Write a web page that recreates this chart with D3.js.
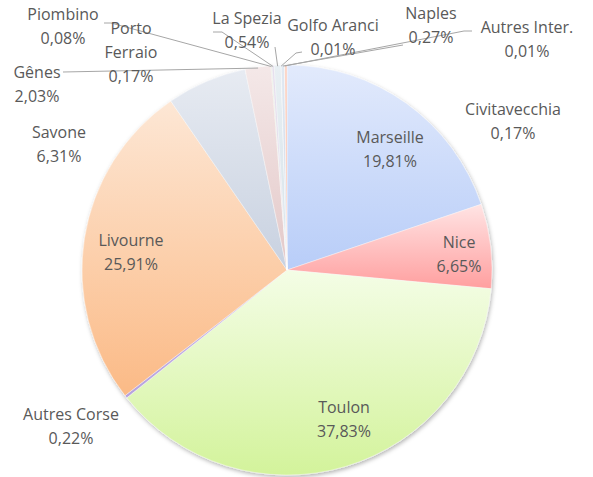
<!DOCTYPE html>
<html>
<head>
<meta charset="utf-8">
<script src="https://cdn.jsdelivr.net/npm/d3@7"></script>
<style>
  body { margin: 0; background: #fff; }
  text { font-family: "Open Sans", sans-serif; font-size: 16px; fill: #595959; }
</style>
</head>
<body>
<script>
// ports, in drawing order (clockwise from 12 o'clock)
var ports = ["Marseille", "Nice", "Toulon", "Autres Corse", "Livourne", "Savone", "Gênes",
    "Piombino", "Porto Ferraio", "La Spezia", "Golfo Aranci", "Naples", "Autres Inter.", "Civitavecchia"];
var shares = [19.81, 6.65, 37.83, 0.22, 25.91, 6.31, 2.03, 0.08, 0.17, 0.54, 0.01, 0.27, 0.01, 0.17];
var shareLabels = ["19,81%", "6,65%", "37,83%", "0,22%", "25,91%", "6,31%", "2,03%",
    "0,08%", "0,17%", "0,54%", "0,01%", "0,27%", "0,01%", "0,17%"];

// colours (top of gradient, bottom of gradient)
var topColors = ["#e2eafc", "#ffe4e4", "#f4fde6", "#cdbfea", "#fde7d5", "#e7ebf2", "#f4e8e8",
    "#e4ecdc", "#e6e0ee", "#e8eff3", "#dcecf2", "#e0e8f2", "#f6e6dc", "#fcd0c0"];
var bottomColors = ["#b8cdf8", "#ff9f9f", "#d3f39b", "#b6a2de", "#fbba86", "#c8d1e0", "#e3c8c8",
    "#d2dcc6", "#d6cce4", "#d6e3ea", "#c8e0ea", "#ccd8e8", "#f0d4c4", "#f8b49c"];

// label layout: centre x, first line y, extra lines, leader line start points
var labelPos = {
    "Marseille": [390, 137], "Nice": [459, 242], "Toulon": [344, 407], "Autres Corse": [71, 414],
    "Livourne": [131, 240], "Savone": [59, 132], "Gênes": [37, 72], "Piombino": [63, 14],
    "Porto Ferraio": [131, 28], "La Spezia": [247, 18], "Golfo Aranci": [333, 25],
    "Naples": [431, 13], "Autres Inter.": [527, 27], "Civitavecchia": [513, 109]
};
var leaders = {
    "Piombino": [[104, 23], [111, 23]],
    "Gênes": [[63, 72]],
    "Porto Ferraio": [[213, 32], [222, 32]],
    "La Spezia": [[275, 47]],
    "Golfo Aranci": [[302, 52], [296, 53]],
    "Naples": [[403, 45]],
    "Autres Inter.": [[472, 31], [464, 31]]
};

var w = 593, h = 477;
var cx = 287, cy = 270, r = 205;

var svg = d3.select("body").append("svg")
    .attr("width", w)
    .attr("height", h);

var defs = svg.append("defs");
var shadow = defs.append("filter").attr("id", "shadow")
    .attr("x", "-10%").attr("y", "-10%").attr("width", "120%").attr("height", "120%");
shadow.append("feDropShadow")
    .attr("dx", 1).attr("dy", 2).attr("stdDeviation", 2)
    .attr("flood-color", "#000").attr("flood-opacity", 0.3);

ports.forEach(function(p, i) {
    var g = defs.append("linearGradient").attr("id", "grad" + i)
        .attr("x1", 0).attr("y1", 0).attr("x2", 0).attr("y2", 1);
    g.append("stop").attr("offset", "0%").attr("stop-color", topColors[i]);
    g.append("stop").attr("offset", "100%").attr("stop-color", bottomColors[i]);
});

var pie = d3.pie().sort(null).value(function(d) { return d; });
var arcs = pie(shares);

var arc = d3.arc().innerRadius(0).outerRadius(r);
var edge = d3.arc().innerRadius(r - 1).outerRadius(r - 1);

var chart = svg.append("g")
    .attr("transform", "translate(" + cx + "," + cy + ")");

chart.append("g")
    .attr("filter", "url(#shadow)")
    .selectAll("path")
    .data(arcs)
    .enter()
    .append("path")
    .attr("d", arc)
    .attr("fill", function(d, i) { return "url(#grad" + i + ")"; })
    .attr("stroke", "#fff")
    .attr("stroke-width", 0.4);

// leader lines
var line = d3.line();
arcs.forEach(function(d, i) {
    var pts = leaders[ports[i]];
    if (!pts) return;
    var c = edge.centroid(d);
    var all = pts.concat([[c[0] + cx, c[1] + cy]]);
    svg.append("path")
        .attr("d", line(all))
        .attr("fill", "none")
        .attr("stroke", "#a6a6a6")
        .attr("stroke-width", 1);
});

// labels
ports.forEach(function(p, i) {
    var pos = labelPos[p];
    var lines = p === "Porto Ferraio" ? ["Porto", "Ferraio", shareLabels[i]] : [p, shareLabels[i]];
    var t = svg.append("text")
        .attr("text-anchor", "middle");
    lines.forEach(function(s, k) {
        t.append("tspan")
            .attr("x", pos[0])
            .attr("y", pos[1] + k * (p === "Porto Ferraio" ? 24 : 24))
            .attr("dy", "0.35em")
            .text(s);
    });
});
</script>
</body>
</html>
